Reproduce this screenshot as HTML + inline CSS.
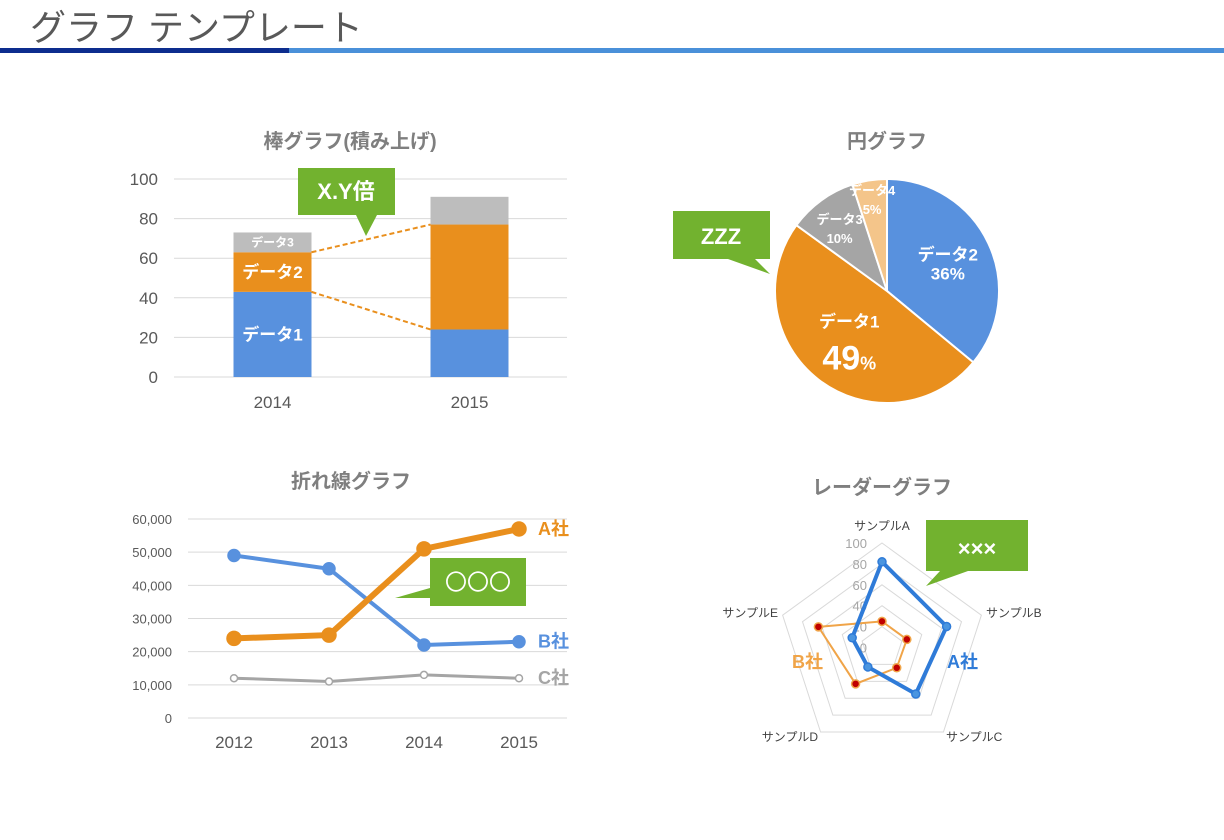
<!DOCTYPE html>
<html><head><meta charset="utf-8"><style>
body{margin:0;background:#fff;width:1224px;height:835px;overflow:hidden;font-family:"Liberation Sans","Noto Sans CJK JP",sans-serif}
svg text{font-family:"Liberation Sans","Noto Sans CJK JP",sans-serif}
</style></head><body>
<svg id="s" width="1224" height="835" xmlns="http://www.w3.org/2000/svg">
<text x="30" y="40" font-size="36" fill="#595959">グラフ テンプレート</text>
<rect x="0" y="48" width="289" height="5" fill="#0d2d8e"/>
<rect x="289" y="48" width="935" height="5" fill="#4a90d9"/>
<g id="bar"></g>
<g id="pie"></g>
<g id="line"></g>
<g id="radar"></g>
</svg>
<script>
const NS="http://www.w3.org/2000/svg";
function mk(p,t,a,txt){const e=document.createElementNS(NS,t);for(const k in a)e.setAttribute(k,a[k]);if(txt!==undefined)e.textContent=txt;p.appendChild(e);return e;}

// ---- stacked bar data
const barCats=["2014","2015"];
const barD1=[43,24];
const barD2=[20,53];
const barD3=[10,14];
const barTicks=[0,20,40,60,80,100];
// ---- pie data
const pieLabels=["データ2","データ1","データ3","データ4"];
const pieVals=[36,49,10,5];
// ---- line data
const lineYears=["2012","2013","2014","2015"];
const lineA=[24000,25000,51000,57000];
const lineB=[49000,45000,22000,23000];
const lineC=[12000,11000,13000,12000];
const lineTicks=[0,10000,20000,30000,40000,50000,60000];
// ---- radar data
const radarCats=["サンプルA","サンプルB","サンプルC","サンプルD","サンプルE"];
const radarA=[82,65,55,23,30];
const radarB=[25,25,24,43,64];
const radarTicks=[0,20,40,60,80,100];

// ===== BAR
(function(){
const g=document.getElementById('bar');
const y=v=>377-v*1.98, cx=i=>272.5+i*197, bw=78;
let t=mk(g,'text',{x:350,y:148,'font-size':20,'font-weight':'bold',fill:'#7f7f7f','text-anchor':'middle'},'棒グラフ(積み上げ)');

barTicks.forEach(v=>{
 let l=mk(g,'line',{x1:174,x2:567,y1:y(v),y2:y(v),stroke:'#d9d9d9'});
 
 let tt=mk(g,'text',{x:158,y:y(v)+6,'font-size':17,fill:'#595959','text-anchor':'end'},v);
 
});
const cols=['#5891de','#e98f1d','#bdbdbd'];
barCats.forEach((c,i)=>{
 let base=0;[barD1[i],barD2[i],barD3[i]].forEach((v,k)=>{
  let r=mk(g,'rect',{x:cx(i)-bw/2,y:y(base+v),width:bw,height:v*1.98,fill:cols[k]});
  
  base+=v;});
 let tt=mk(g,'text',{x:cx(i),y:408,'font-size':17,fill:'#595959','text-anchor':'middle'},c);
 
});
const x0=cx(0)+bw/2,x1=cx(1)-bw/2;
[[barD1[0]+barD2[0],barD1[1]+barD2[1]],[barD1[0],barD1[1]]].forEach(p=>{
 let l=mk(g,'line',{x1:x0,y1:y(p[0]),x2:x1,y2:y(p[1]),stroke:'#e98f1d','stroke-width':2,'stroke-dasharray':'5,3'});
 
});
const lab=[['データ1',(barD1[0])/2,17],['データ2',barD1[0]+barD2[0]/2,17],['データ3',barD1[0]+barD2[0]+barD3[0]/2,12]];
lab.forEach(a=>{let tt=mk(g,'text',{x:cx(0),y:y(a[1])+a[2]*0.35,'font-size':a[2],'font-weight':'bold',fill:'#fff','text-anchor':'middle'},a[0]);
 });
let cb=mk(g,'path',{d:'M298 168H395V215H377L366 236L356 215H298Z',fill:'#72b22f'});

let ct=mk(g,'text',{x:346,y:199,'font-size':22,'font-weight':'bold',fill:'#fff','text-anchor':'middle'},'X.Y倍');

})();

// ===== PIE
(function(){
const g=document.getElementById('pie');
const cx=887,cy=291,r=112;
let t=mk(g,'text',{x:887,y:148,'font-size':20,'font-weight':'bold',fill:'#7f7f7f','text-anchor':'middle'},'円グラフ');

const cols=['#5891de','#e98f1d','#a5a5a5','#f4c58a'];
const tot=pieVals.reduce((a,b)=>a+b,0);
let a0=0;
const lbl=[];
pieVals.forEach((v,i)=>{
 const a1=a0+v/tot*2*Math.PI;
 const p=a=>[cx+r*Math.sin(a),cy-r*Math.cos(a)];
 const s=p(a0),e=p(a1);
 let path=mk(g,'path',{d:`M${cx} ${cy}L${s[0]} ${s[1]}A${r} ${r} 0 ${a1-a0>Math.PI?1:0} 1 ${e[0]} ${e[1]}Z`,fill:cols[i],stroke:'#fff','stroke-width':2});
 
 lbl.push((a0+a1)/2);a0=a1;
});
const cfg=[[0.6,17,17],[0.55,17,34],[0.72,13,13],[0.85,13,13]];
pieVals.forEach((v,i)=>{
 const m=lbl[i],f=cfg[i][0];
 const x=cx+r*f*Math.sin(m),y=cy-r*f*Math.cos(m);
 let a=mk(g,'text',{x:x,y:y-(i==1?12:2),'font-size':cfg[i][1],'font-weight':'bold',fill:'#fff','text-anchor':'middle'},pieLabels[i]);
 
 let b=mk(g,'text',{x:x+(i==1?0:0),y:y+(i==1?30:17),'font-size':cfg[i][2],'font-weight':'bold',fill:'#fff','text-anchor':'middle'});
 
 b.textContent=v+(i==1?'':'%');
 if(i==1){let ts=mk(b,'tspan',{'font-size':18},'%');}
});
let cb=mk(g,'path',{d:'M673 211H770V259H755L770 274L728 259H673Z',fill:'#72b22f'});

let ct=mk(g,'text',{x:721,y:244,'font-size':22,'font-weight':'bold',fill:'#fff','text-anchor':'middle'},'ZZZ');

})();

// ===== LINE
(function(){
const g=document.getElementById('line');
const y=v=>718-v*199/60000, x=i=>234+i*95;
let t=mk(g,'text',{x:351,y:488,'font-size':20,'font-weight':'bold',fill:'#7f7f7f','text-anchor':'middle'},'折れ線グラフ');

lineTicks.forEach(v=>{
 let l=mk(g,'line',{x1:188,x2:567,y1:y(v),y2:y(v),stroke:'#d9d9d9'});
 
 let tt=mk(g,'text',{x:172,y:y(v)+5,'font-size':13,fill:'#595959','text-anchor':'end'},v.toLocaleString('en-US'));
 
});
lineYears.forEach((c,i)=>{let tt=mk(g,'text',{x:x(i),y:748,'font-size':17,fill:'#595959','text-anchor':'middle'},c);
 });
const ser=[[lineC,'#a5a5a5',3,3.5,'#fff','C社'],[lineB,'#5891de',4,6,'#5891de','B社'],[lineA,'#e98f1d',6,7,'#e98f1d','A社']];
ser.forEach(s=>{
 let pl=mk(g,'polyline',{points:s[0].map((v,i)=>x(i)+','+y(v)).join(' '),fill:'none',stroke:s[1],'stroke-width':s[2]});
 
 s[0].forEach((v,i)=>{let c=mk(g,'circle',{cx:x(i),cy:y(v),r:s[3],fill:s[4],stroke:s[1],'stroke-width':1.5});
  });
 let tt=mk(g,'text',{x:538,y:y(s[0][3])+6,'font-size':18,'font-weight':'bold',fill:s[1]},s[5]);
 
});
let cb=mk(g,'path',{d:'M430 558H526V606H430V598L395 598L430 588Z',fill:'#72b22f'});

let ct=mk(g,'text',{x:478,y:590,'font-size':22,fill:'#fff','text-anchor':'middle'},'〇〇〇');

})();

// ===== RADAR
(function(){
const g=document.getElementById('radar');
const cx=882,cy=647.5,R=104.5;
const pt=(i,v)=>{const a=i*2*Math.PI/5;return [cx+R*v/100*Math.sin(a),cy-R*v/100*Math.cos(a)];};
let t=mk(g,'text',{x:882,y:494,'font-size':20,'font-weight':'bold',fill:'#7f7f7f','text-anchor':'middle'},'レーダーグラフ');

radarTicks.forEach(v=>{if(!v)return;
 let p=mk(g,'polygon',{points:radarCats.map((c,i)=>pt(i,v).join(',')).join(' '),fill:'none',stroke:'#d9d9d9'});
 });
radarTicks.forEach(v=>{let tt=mk(g,'text',{x:867,y:cy-R*v/100+5,'font-size':13,fill:'#a6a6a6','text-anchor':'end'},v);
 });
const lp=[[882,530,'middle'],[986,617,'start'],[946,741,'start'],[818,741,'end'],[778,617,'end']];
radarCats.forEach((c,i)=>{let tt=mk(g,'text',{x:lp[i][0],y:lp[i][1],'font-size':12,fill:'#404040','text-anchor':lp[i][2]},c);
 });
const ser=[[radarB,'#f0a448',2,'#c00000','B社'],[radarA,'#2f7bd8',4,'#4a95e0','A社']];
ser.forEach(s=>{
 let p=mk(g,'polygon',{points:s[0].map((v,i)=>pt(i,v).join(',')).join(' '),fill:'none',stroke:s[1],'stroke-width':s[2]});
 
 s[0].forEach((v,i)=>{const q=pt(i,v);let c=mk(g,'circle',{cx:q[0],cy:q[1],r:4,fill:s[3],stroke:s[1],'stroke-width':1.5});
  });
});
let a=mk(g,'text',{x:947,y:668,'font-size':18,'font-weight':'bold',fill:'#2f7bd8'},'A社');

let b=mk(g,'text',{x:792,y:668,'font-size':18,'font-weight':'bold',fill:'#f0a448'},'B社');

let cb=mk(g,'path',{d:'M926 520H1028V571H968L926 586L940 571H926Z',fill:'#72b22f'});

let ct=mk(g,'text',{x:977,y:556,'font-size':22,'font-weight':'bold',fill:'#fff','text-anchor':'middle'},'×××');

})();
</script>
</body></html>
